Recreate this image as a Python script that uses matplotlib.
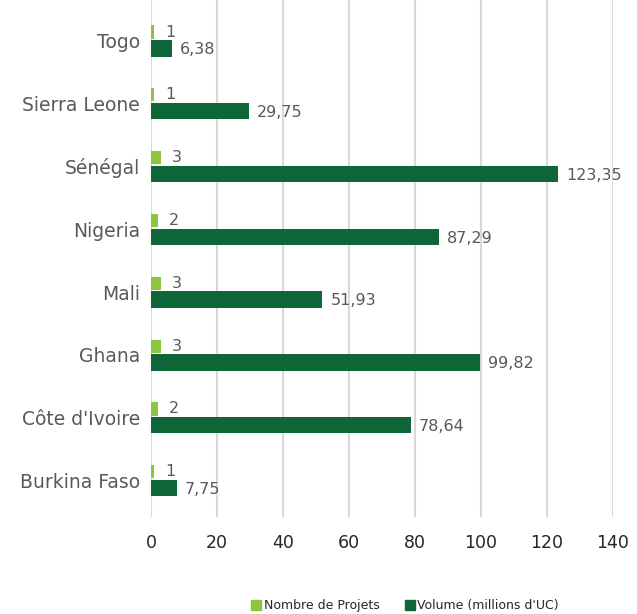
import numpy as np
import matplotlib
matplotlib.use('Agg')
import matplotlib.pyplot as plt
from matplotlib.patches import Patch

countries = ["Burkina Faso", "Côte d'Ivoire", "Ghana", "Mali", "Nigeria",
             "Sénégal", "Sierra Leone", "Togo"]
nb_projets = [1, 2, 3, 3, 2, 3, 1, 1]
volume = [7.75, 78.64, 99.82, 51.93, 87.29, 123.35, 29.75, 6.38]
volume_labels = ["7,75", "78,64", "99,82", "51,93", "87,29", "123,35", "29,75", "6,38"]

light = '#8cc63f'
dark = '#0e6638'

fig = plt.figure(figsize=(6.37, 6.14), dpi=100)
ax = fig.add_axes([151 / 637, 1 - 517 / 614, (613 - 151) / 637, 517 / 614])

y = np.arange(len(countries))
ax.barh(y + 0.14, nb_projets, height=0.21, color=light, zorder=3)
ax.barh(y - 0.12, volume, height=0.26, color=dark, zorder=3)

for i in range(len(countries)):
    ax.text(nb_projets[i] + 3.3, y[i] + 0.14, str(nb_projets[i]), va='center',
            ha='left', fontsize=11.5, color='#595959')
    ax.text(volume[i] + 2.4, y[i] - 0.14, volume_labels[i], va='center',
            ha='left', fontsize=11.5, color='#595959')

ax.set_xlim(0, 140)
ax.set_ylim(-0.58, 7.65)
ax.set_xticks(range(0, 141, 20))
ax.set_yticks(y)
ax.set_yticklabels(countries, fontsize=13.5, color='#595959')
ax.tick_params(axis='x', length=0, pad=12, labelsize=12.5, labelcolor='#262626')
ax.tick_params(axis='y', length=0, pad=8)
ax.grid(axis='x', color='#d9d9d9', linewidth=1.5, zorder=0)
for s in ax.spines.values():
    s.set_visible(False)

handles = [Patch(color=light, label='Nombre de Projets'),
           Patch(color=dark, label="Volume (millions d'UC)")]
fig.legend(handles=handles, loc='center', bbox_to_anchor=(405 / 637, 1 - 606 / 614),
           ncol=2, frameon=False, fontsize=9, handlelength=0.8, handleheight=0.8,
           handletextpad=0.2, columnspacing=2.0, labelcolor='#262626')

fig.savefig('out.png', dpi=100)
